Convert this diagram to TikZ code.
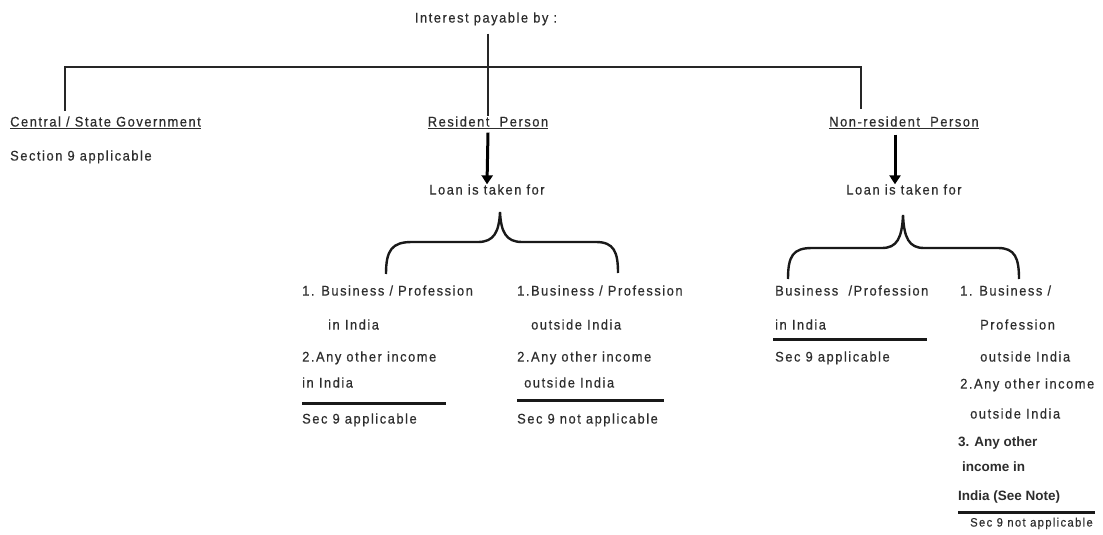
\documentclass[tikz,border=0pt]{standalone}
\usepackage{fontspec}
\setmainfont{Liberation Sans}
\newfontfamily\lsfont[LetterSpace=11,FakeStretch=0.92,FakeBold=0.5]{Liberation Sans}
\usetikzlibrary{arrows.meta}
\definecolor{tc}{RGB}{45,45,45}
\begin{document}
\begin{tikzpicture}[x=1pt,y=-1pt,
  txt/.style={inner sep=0pt, anchor=west, text=tc, text height=10pt, text depth=2.9pt,
    font=\lsfont\fontsize{14}{16}\selectfont},
  ctxt/.style={txt, anchor=center},
  btxt/.style={inner sep=0pt, anchor=west, text=tc, text height=10pt, text depth=3pt,
    font=\bfseries\fontsize{13.5}{15}\selectfont},
  stxt/.style={txt, font=\lsfont\fontsize{12.2}{14}\selectfont},
  conn/.style={line width=2.4pt, draw=black!85},
  arr/.style={line width=3pt, draw=black, -{Triangle[width=11pt,length=9pt]}},
  brace/.style={line width=2.4pt, draw=black!90},
  rule/.style={line width=3pt, draw=black!90}]
\useasboundingbox (0,0) rectangle (1103,535);

% top
\node[ctxt] (top) at (486,19) {Interest payable by :};

% level 1
\node[txt] (cg) at (10,123) {\underline{Central / State Government}};
\node[txt] (cgs) at (10,157) {Section 9 applicable};
\node[ctxt] (rp) at (488,123) {\underline{Resident\ \ Person}};
\node[ctxt] (nr) at (904,123) {\underline{Non-resident\ \ Person}};

\coordinate (barL) at (65,67);
\coordinate (barR) at (861,67);
\coordinate (cgtop) at (65,111);
\coordinate (nrtop) at (861,109);
\draw[conn] (cgtop) -- (barL) -- (barR) -- (nrtop);
\draw[conn] (top.south -| rp.north) ++(0,8) -- (rp.north);

% loans
\node[ctxt] (l1) at (487,191) {Loan is taken for};
\node[ctxt] (l2) at (904,191) {Loan is taken for};
\draw[arr] (rp.south) ++(0,3) -- (l1.north);
\draw[arr] (nr.south -| 895,0) ++(0,5) -- (l2.north -| 895,0);

% resident children
\node[txt] (a1) at (302,292) {1. Business / Profession};
\node[txt] (a2) at (328,326) {in India};
\node[txt] (a3) at (302,358) {2.Any other income};
\node[txt] (a4) at (302,384) {in India};
\node[txt] (a5) at (302,420) {Sec 9 applicable};
\draw[rule] (302,403) -- (446,403);

\node[txt] (b1) at (517,292) {1.Business / Profession};
\node[txt] (b2) at (531,326) {outside India};
\node[txt] (b3) at (517,358) {2.Any other income};
\node[txt] (b4) at (524,384) {outside India};
\node[txt] (b5) at (517,420) {Sec 9 not applicable};
\draw[rule] (517,400) -- (664,400);

% brace 1
\coordinate (t1) at (500,212);
\coordinate (e1l) at (386,274);
\coordinate (e1r) at (618,273);
\draw[brace] (e1l) .. controls (386,250) and (392,242) .. (412,242) -- (478,242)
  .. controls (494,242) and (499,232) .. (t1)
  .. controls (501,232) and (506,242) .. (522,242) -- (596,242)
  .. controls (614,242) and (618,252) .. (e1r);

% non-resident children
\node[txt] (c1) at (775,292) {Business\ \ /Profession};
\node[txt] (c2) at (775,326) {in India};
\node[txt] (c3) at (775,358) {Sec 9 applicable};
\draw[rule] (773,339) -- (927,339);

\node[txt] (d1) at (960,292) {1. Business /};
\node[txt] (d2) at (980,326) {Profession};
\node[txt] (d3) at (980,358) {outside India};
\node[txt] (d4) at (960,385) {2.Any other income};
\node[txt] (d5) at (970,415) {outside India};
\node[btxt] (d6) at (958,443) {3. Any other};
\node[btxt] (d7) at (962,468) {income in};
\node[btxt] (d8) at (958,497) {India (See Note)};
\node[stxt] (d9) at (970,523) {Sec 9 not applicable};
\draw[rule] (958,512) -- (1095,512);

% brace 2
\coordinate (t2) at (903,215);
\coordinate (e2l) at (788,279);
\coordinate (e2r) at (1019,279);
\draw[brace] (e2l) .. controls (788,256) and (793,248) .. (812,248) -- (882,248)
  .. controls (897,248) and (902,238) .. (t2)
  .. controls (904,238) and (909,248) .. (924,248) -- (998,248)
  .. controls (1015,248) and (1019,258) .. (e2r);
\end{tikzpicture}
\end{document}
